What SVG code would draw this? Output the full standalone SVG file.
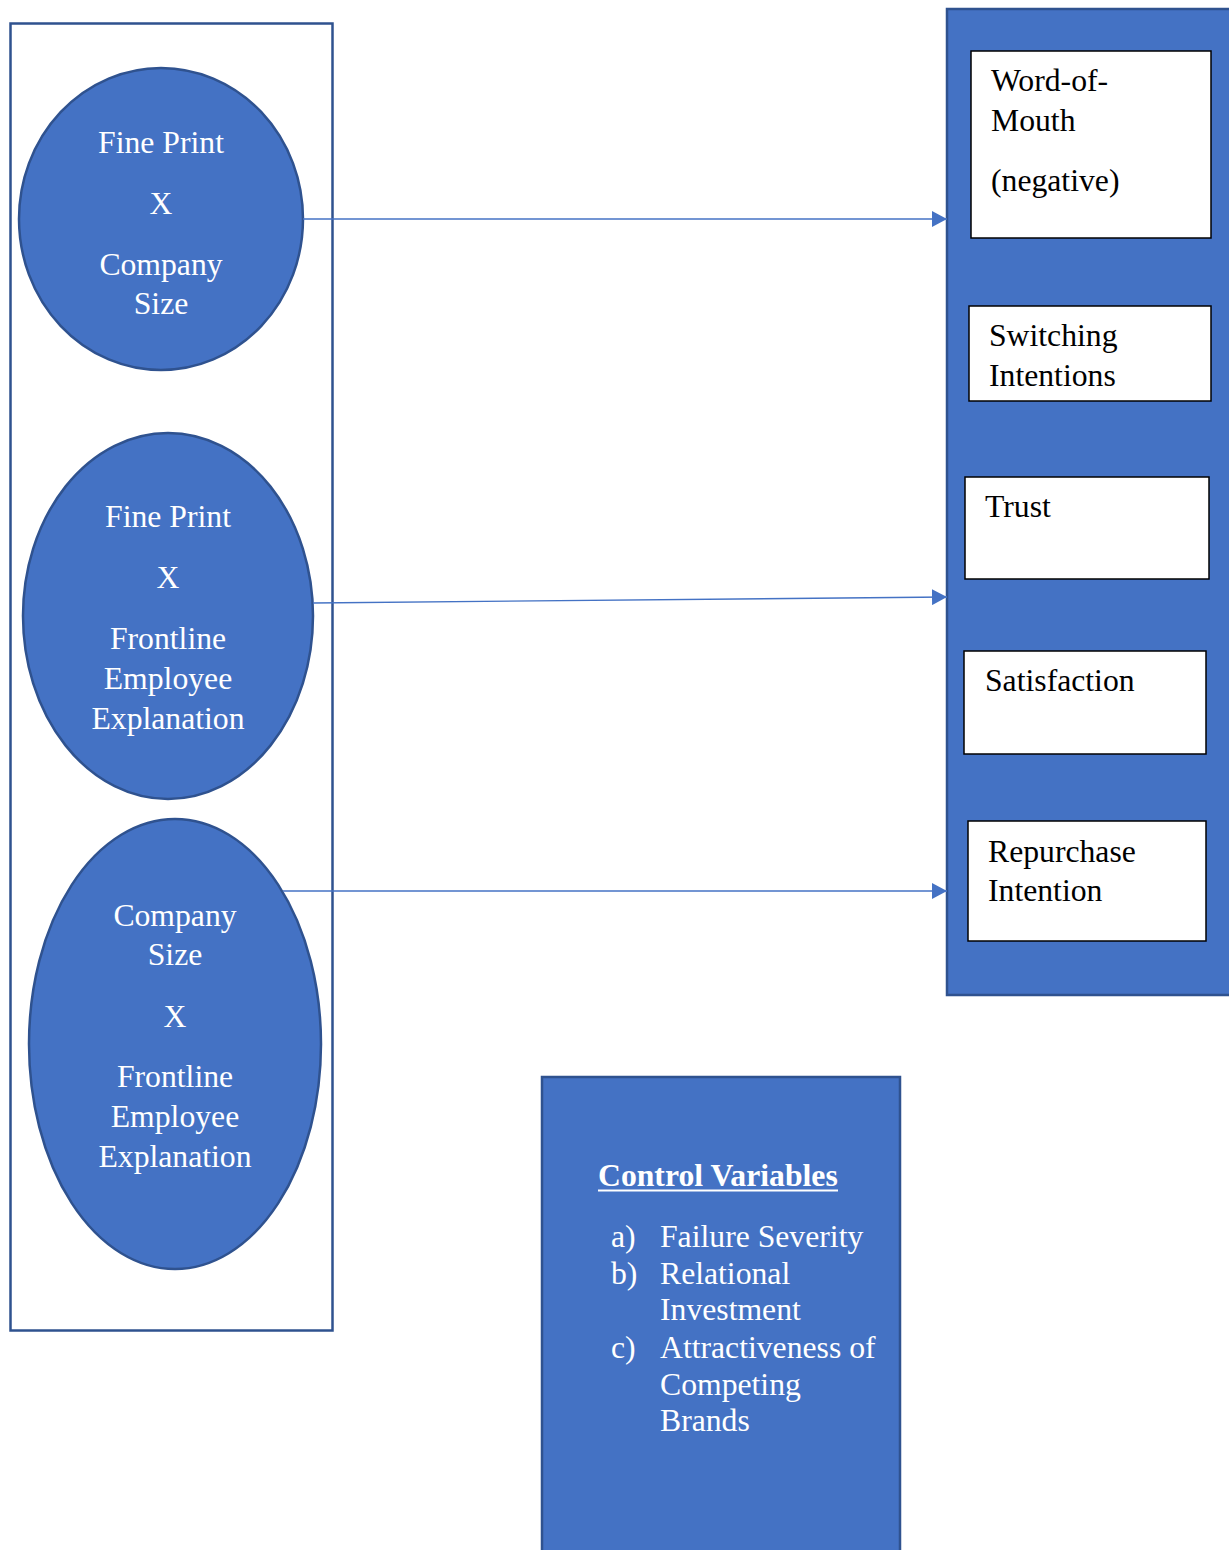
<svg xmlns="http://www.w3.org/2000/svg" width="1229" height="1550" viewBox="0 0 1229 1550">
  <style>
    .shape { fill: #4472C4; stroke: #2F528F; stroke-width: 2.5; }
    .frame { fill: #FFFFFF; stroke: #2F528F; stroke-width: 2.5; }
    .box { fill: #FFFFFF; stroke: #000000; stroke-width: 1.5; }
    .wt { fill: #FFFFFF; font-family: "Liberation Serif", "Times New Roman", serif; font-size: 31.7px; }
    .wc { text-anchor: middle; }
    .bt { fill: #000000; font-family: "Liberation Serif", "Times New Roman", serif; font-size: 31.7px; }
    .link { stroke: #4472C4; stroke-width: 1.4; fill: none; marker-end: url(#arrow); }
  </style>
  <defs>
    <marker id="arrow" markerUnits="userSpaceOnUse" markerWidth="16" markerHeight="16" refX="15" refY="8" orient="auto">
      <path d="M0,0 L15,8 L0,16 Z" fill="#4472C4"/>
    </marker>
  </defs>

  <rect width="1229" height="1550" fill="#FFFFFF"/>

  <!-- Interaction terms frame -->
  <g id="interactions-frame">
    <rect class="frame" x="10.5" y="23.5" width="322" height="1307"/>
  </g>

  <g id="fineprint-x-size">
    <ellipse class="shape" cx="161" cy="219" rx="142" ry="151"/>
    <text class="wt wc" x="161" y="153">Fine Print</text>
    <text class="wt wc" x="161" y="214">X</text>
    <text class="wt wc" x="161" y="275">Company</text>
    <text class="wt wc" x="161" y="314">Size</text>
  </g>

  <g id="fineprint-x-explanation">
    <ellipse class="shape" cx="168" cy="616" rx="145" ry="183"/>
    <text class="wt wc" x="168" y="527">Fine Print</text>
    <text class="wt wc" x="168" y="588">X</text>
    <text class="wt wc" x="168" y="649">Frontline</text>
    <text class="wt wc" x="168" y="689">Employee</text>
    <text class="wt wc" x="168" y="729">Explanation</text>
  </g>

  <g id="size-x-explanation">
    <ellipse class="shape" cx="175" cy="1044" rx="146" ry="225"/>
    <text class="wt wc" x="175" y="926">Company</text>
    <text class="wt wc" x="175" y="965">Size</text>
    <text class="wt wc" x="175" y="1027">X</text>
    <text class="wt wc" x="175" y="1087">Frontline</text>
    <text class="wt wc" x="175" y="1127">Employee</text>
    <text class="wt wc" x="175" y="1167">Explanation</text>
  </g>

  <!-- Outcome variables panel -->
  <g id="outcomes">
    <rect class="shape" x="947" y="9" width="290" height="986"/>
  </g>

  <g id="word-of-mouth">
    <rect class="box" x="971" y="51" width="240" height="187"/>
    <text class="bt" x="991" y="91">Word-of-</text>
    <text class="bt" x="991" y="131">Mouth</text>
    <text class="bt" x="991" y="191">(negative)</text>
  </g>

  <g id="switching-intentions">
    <rect class="box" x="969" y="306" width="242" height="95"/>
    <text class="bt" x="989" y="346">Switching</text>
    <text class="bt" x="989" y="386">Intentions</text>
  </g>

  <g id="trust">
    <rect class="box" x="965" y="477" width="244" height="102"/>
    <text class="bt" x="985" y="517">Trust</text>
  </g>

  <g id="satisfaction">
    <rect class="box" x="964" y="651" width="242" height="103"/>
    <text class="bt" x="985" y="691">Satisfaction</text>
  </g>

  <g id="repurchase-intention">
    <rect class="box" x="968" y="821" width="238" height="120"/>
    <text class="bt" x="988" y="862">Repurchase</text>
    <text class="bt" x="988" y="901">Intention</text>
  </g>

  <!-- Control variables -->
  <g id="control-variables">
    <rect class="shape" x="542" y="1077" width="358" height="490"/>
    <text class="wt" x="598" y="1186" font-weight="bold" font-size="32.5px">Control Variables</text>
    <line x1="598" y1="1190.5" x2="838" y2="1190.5" stroke="#FFFFFF" stroke-width="2.2"/>
    <text class="wt" x="611" y="1247">a)</text>
    <text class="wt" x="660" y="1247">Failure Severity</text>
    <text class="wt" x="611" y="1284">b)</text>
    <text class="wt" x="660" y="1284">Relational</text>
    <text class="wt" x="660" y="1320">Investment</text>
    <text class="wt" x="611" y="1358">c)</text>
    <text class="wt" x="660" y="1358">Attractiveness of</text>
    <text class="wt" x="660" y="1395">Competing</text>
    <text class="wt" x="660" y="1431">Brands</text>
  </g>

  <!-- Connectors -->
  <g id="connectors">
    <line class="link" x1="303" y1="219" x2="947" y2="219"/>
    <line class="link" x1="313" y1="603" x2="947" y2="597"/>
    <line class="link" x1="283" y1="891" x2="947" y2="891"/>
  </g>
</svg>
